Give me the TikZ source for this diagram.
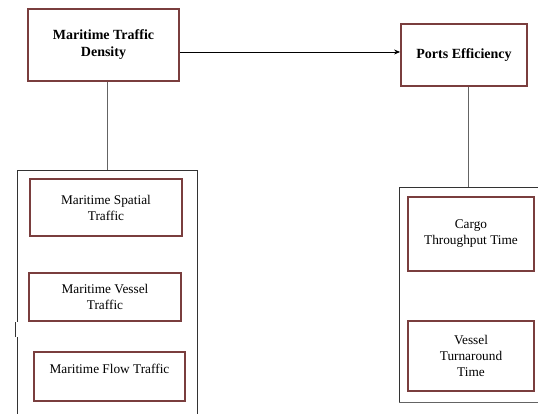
\documentclass[tikz,border=0pt]{standalone}
\usepackage{fontspec}
\setmainfont{Liberation Serif}
\usetikzlibrary{arrows.meta}
\definecolor{boxred}{RGB}{122,62,62}
\definecolor{conngray}{RGB}{100,100,100}
\tikzset{
  box/.style={draw=boxred, line width=1.8pt, fill=white, align=center, inner sep=2pt,
    font=\fontsize{13.3}{16}\selectfont},
  headbox/.style={box, font=\fontsize{14}{17}\selectfont\bfseries},
  conn/.style={draw=conngray, line width=0.8pt},
  frame/.style={draw=black!80, line width=0.7pt},
}
\begin{document}
\begin{tikzpicture}[x=1pt,y=-1pt]
\useasboundingbox (0,0) rectangle (538,414);
% containers
\draw[frame] (197,414) -- (197,170) -- (17,170) -- (17,322);
\draw[frame] (15,322) -- (15,337);
\draw[frame] (17,337) -- (17,414);
\draw[frame] (538,187) -- (399,187) -- (399,402);
\draw[draw=conngray, line width=0.9pt] (399,402) -- (538,402);
\coordinate (lc) at (107,170);
\coordinate (rc) at (468,187);
% main boxes
\node[headbox, minimum width=151pt, minimum height=72pt] (dens) at (103.5,45) {Maritime Traffic\\Density};
\node[headbox, minimum width=126pt, minimum height=62pt] (ports) at (464,55) {Ports Efficiency};
% sub boxes
\node[box, minimum width=152pt, minimum height=57pt] (spat) at (106,207.5) {Maritime Spatial\\Traffic};
\node[box, minimum width=152pt, minimum height=48pt] (vess) at (105,297) {Maritime Vessel\\Traffic};
\node[box, minimum width=151pt, minimum height=49pt] (flow) at (109.5,376.5) {Maritime Flow Traffic\\\phantom{X}};
\node[box, minimum width=126pt, minimum height=74pt] (cargo) at (471,234) {Cargo\\Throughput Time};
\node[box, minimum width=126pt, minimum height=70pt] (turn) at (471,356) {Vessel\\Turnaround\\Time};
% connectors
\draw[conn] (dens.south -| lc) -- (lc);
\draw[conn] (ports.south -| rc) -- (rc);
\draw[line width=0.8pt, -{Stealth[length=6pt,width=5pt]}] ([yshift=-7pt]dens.east) coordinate (a) -- (a -| ports.west);
\end{tikzpicture}
\end{document}
